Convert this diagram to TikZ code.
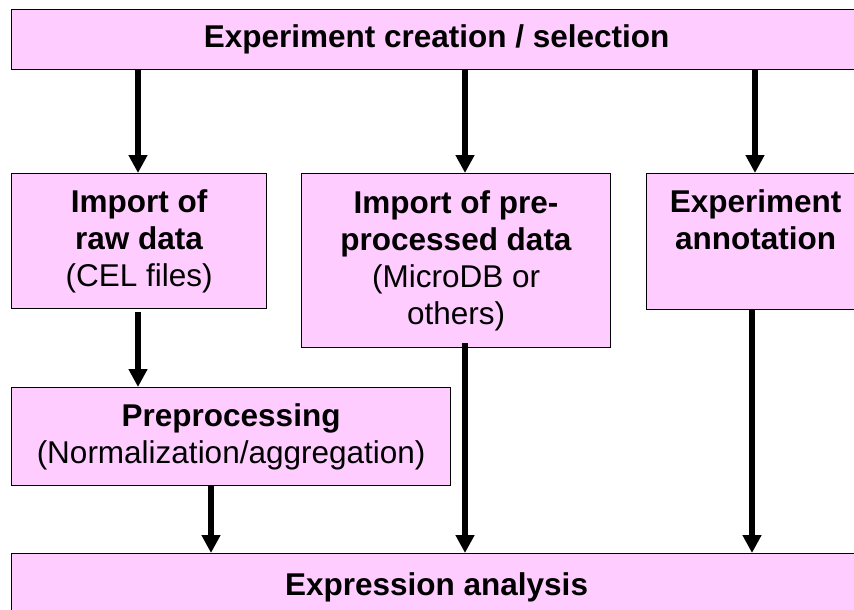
\documentclass[tikz,border=0pt]{standalone}
\usepackage{fontspec}
\setmainfont{Liberation Sans}
\usetikzlibrary{arrows.meta}
\definecolor{boxpink}{HTML}{FFCCFF}

\begin{document}
\begin{tikzpicture}[x=1pt,y=-1pt,
		box/.style={draw=black,line width=1.2pt,fill=boxpink,anchor=north west,inner sep=0pt,align=center,font=\fontsize{31.5}{37}\selectfont},
		flow/.style={line width=5.5pt,-{Triangle[width=18pt,length=18pt]}}]
		\useasboundingbox[fill=white] (0,0) rectangle (854,610);
		\node[box,minimum width=850pt,minimum height=60pt] (create) at (11,9) {\textbf{Experiment creation / selection}};
		\node[box,minimum width=255pt,minimum height=135pt] (raw) at (11,173) {\textbf{Import of}\\\textbf{raw data}\\(CEL files)};
		\node[box,minimum width=309pt,minimum height=174pt] (pre) at (301,173) {\textbf{Import of pre-}\\\textbf{processed data}\\(MicroDB or\\others)};
		\node[box,minimum width=218pt,minimum height=136pt] (annot) at (646,173) {\textbf{Experiment}\\\textbf{annotation}\\\vphantom{(}};
		\node[box,minimum width=439pt,minimum height=98pt] (prep) at (11,387) {\textbf{Preprocessing}\\(Normalization/aggregation)};
		\node[box,minimum width=850pt,minimum height=68pt] (expr) at (11,553) {\textbf{Expression analysis}};
		\coordinate (c1) at (138,0);
		\coordinate (c2) at (465,0);
		\coordinate (c3) at (755,0);
		\coordinate (c4) at (211,0);
		\coordinate (c5) at (752,0);
		\draw[flow] (create.south -| c1) -- (raw.north -| c1);
		\draw[flow] (create.south -| c2) -- (pre.north -| c2);
		\draw[flow] (create.south -| c3) -- (annot.north -| c3);
		\draw[flow] ([yshift=-3pt]raw.south -| c1) -- (prep.north -| c1);
		\draw[flow] (prep.south -| c4) -- (expr.north -| c4);
		\draw[flow] ([yshift=5pt]pre.south -| c2) -- (expr.north -| c2);
		\draw[flow] (annot.south -| c5) -- (expr.north -| c5);
	\end{tikzpicture}
\end{document}
